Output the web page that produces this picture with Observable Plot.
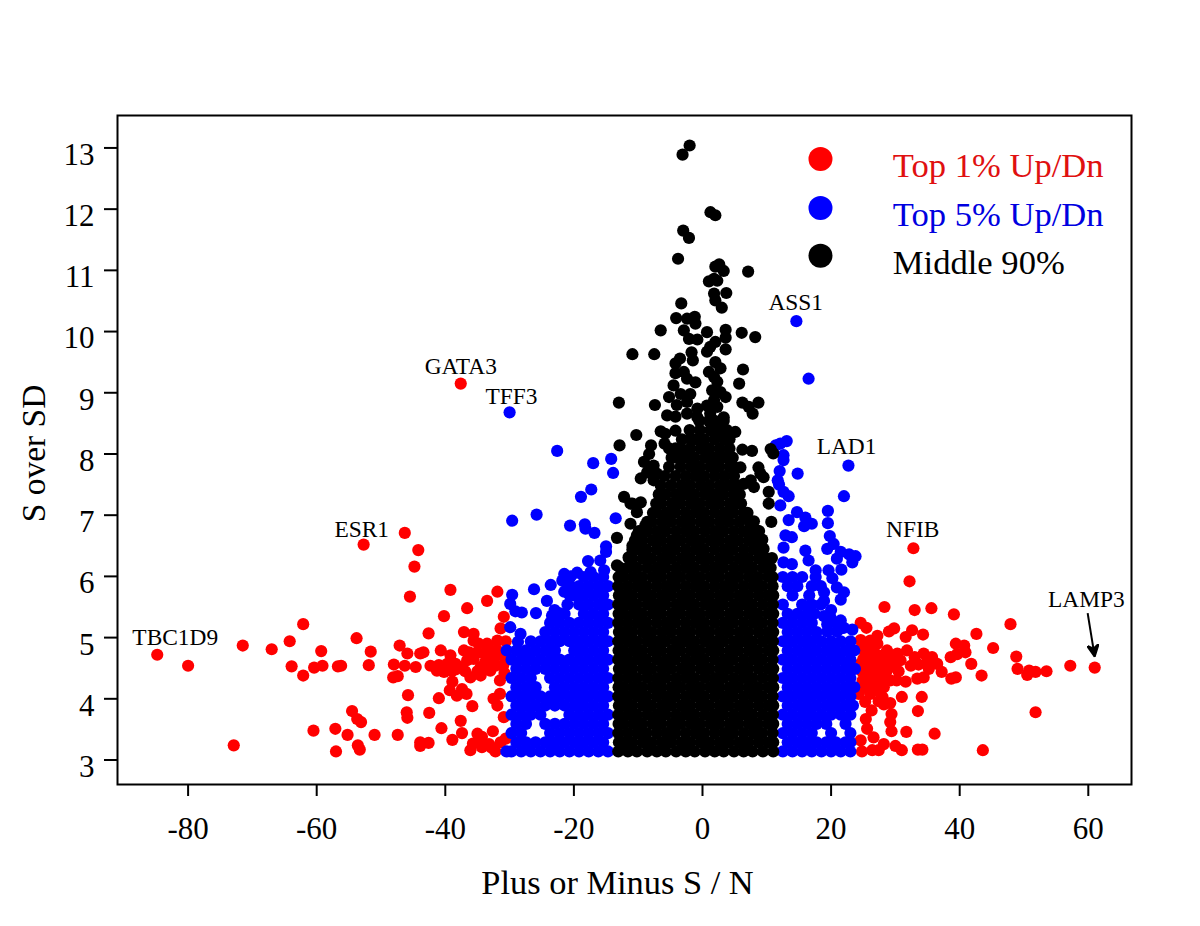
<!DOCTYPE html>
<html>
<head>
<meta charset="utf-8">
<script src="https://cdn.jsdelivr.net/npm/d3@7"></script>
<script src="https://cdn.jsdelivr.net/npm/@observablehq/plot@0.6"></script>
<style>html,body{margin:0;padding:0;background:#fff}</style>
</head>
<body>
<div id="chart"></div>
<script>
const redPairs = [
[-84.8,4.72],[-80,4.54],[-71.5,4.87],[-67,4.81],[-64.2,4.94],[-62.1,5.22],[-63.9,4.53],[-62.1,4.38],[-59.3,4.78],[-60.4,4.51],[-59.1,4.54],[-56.7,4.53],[-56.2,4.54],[-53.8,4.99],[-51.6,4.77],[-51.9,4.55],[-52.7,6.52],[-46.3,6.71],[-44.2,6.43],[-44.8,6.16],[-45.5,5.67],[-39.2,5.78],[-31.9,5.75],[-33.5,5.6],[-36.6,5.48],[-40.2,5.35],[-30.9,5.34],[-31.4,5.15],[-42.6,5.07],[-37.1,5.09],[-35.6,5.06],
[-47.1,4.87],[-45.9,4.74],[-48,4.56],[-48.1,4.35],[-47.4,4.37],[-46.3,4.54],[-44.6,4.52],[-43.9,4.74],[-43.4,4.76],[-42.3,4.54],[-41.3,4.46],[-40.7,4.79],[-40.2,4.44],[-39.2,4.71],[-39.7,4.57],[-38.4,4.57],[-37.1,4.79],[-36.3,4.76],[-37.4,4.52],[-36.1,4.35],[-35.6,4.65],[-34.8,4.9],[-34.5,4.52],[-33.5,4.9],[-33,4.46],[-34,4.74],[-32.5,4.65],[-31.9,4.95],[-30.6,4.94],[-32.2,4.54],[-31.5,4.3],[-35.6,4.95],[-36.6,4.63],[-35,4.45],[-33.8,4.6],[-38.4,4.48],[-41,4.55],[-35.2,4.75],[-36.9,4.45],[-33.2,4.8],[-32,4.8],[-31,4.7],[-31,4.55],[-30.8,4.42],[-34.5,4.38],[-39,4.45],
[-38.9,4.28],[-39.3,4.14],[-41,4.01],[-38.2,4.05],[-37.4,4.16],[-36.7,4.08],[-45.8,4.06],[-35.8,3.88],[-32.5,4],[-31.5,4.08],[-31.9,3.89],[-30.9,3.7],[-46,3.78],[-45.9,3.69],[-42.5,3.77],[-37.6,3.64],[-40.6,3.52],[-54.5,3.8],[-53.7,3.67],[-53.1,3.62],[-60.5,3.48],[-57.1,3.51],[-55.2,3.41],[-51,3.41],[-47.4,3.41],[-72.9,3.24],[-57,3.14],[-53.6,3.24],[-53.3,3.17],[-43.9,3.29],[-42.6,3.28],[-43.9,3.23],[-38.9,3.33],[-37.4,3.44],[-35,3.43],[-34.3,3.38],[-32.6,3.47],[-36.1,3.16],[-35.7,3.27],[-34.3,3.21],[-33.2,3.26],[-32.2,3.14],[-31.4,3.29],[-30.6,3.35],[-34.7,3.29],[-32.8,3.2],
[-37.6,9.15],
[32.8,6.46],[32.2,5.92],[28.3,5.5],[33,5.45],[35.6,5.48],[39.1,5.38],[47.9,5.22],[42.6,5.06],[24.6,5.24],[25.5,5.16],[29.8,5.15],[29,5.1],[32.6,5.12],[31.6,5.01],[34.3,5.05],[27.2,5.03],[24.6,4.96],[39.4,4.9],[40.7,4.87],[38.6,4.68],[39.6,4.73],[40.9,4.76],[45.2,4.83],[48.8,4.69],[41.8,4.57],[43.4,4.38],[38.7,4.33],[39.4,4.35],[49,4.49],[50.8,4.46],[50.5,4.39],[51.8,4.44],[53.5,4.45],[57.2,4.54],[61,4.51],[51.8,3.78],[43.6,3.16],[34.1,4.03],[31,4.03],[33.5,3.8],[29.2,3.93],[28.2,3.91],[29.4,3.75],[29.2,3.62],[29.4,3.47],[31.7,3.46],[36.1,3.43],[33.5,3.17],[34.2,3.17],[30,3.23],[31,3.16],[28.2,3.26],[27.4,3.16],[26.4,3.16],[24.8,3.14],[24.6,3.32],[26.6,3.37],[26.3,3.81],[25.4,3.67],[25.6,3.51],[24.3,4.08],
[31.8,4.79],[34.4,4.74],[35.7,4.68],[36.5,4.57],[37.2,4.44],[35.2,4.49],[33.4,4.33],[31.6,4.28],[34.4,4.35],[32.4,4.54],[30.3,4.74],[28.7,4.79],[29.8,4.52],[28.2,4.57],[27.2,4.9],[26.1,4.95],[25.1,4.79],[25.9,4.68],[24.6,4.57],[26.6,4.52],[25.4,4.41],[27.6,4.41],[29.2,4.3],[26.6,4.3],[28.2,4.19],[27.2,4.14],[24.9,4.3],[30.8,4.63],[24.8,4.85],[26.6,4.8],[28,4.03],[27.4,3.96],[26.1,4.08],[25,4.65],[27.5,4.7],[33.6,4.56],[35,4.62],[25.3,4.18],[26,4.2],[27.6,4.6],[28.2,4.72],[24.8,4.45],[26.2,4.42],[27.9,4.32],[30.5,4.45],[33,4.68],[25.4,4.9],[26,4.6],[27,4.3],[27,4.62],[26,4.75],[25.6,4.3],[25.2,4.55],[28.6,4.45],[29.6,4.65],[30.2,4.3],[25.3,3.95],[26.7,4.15]
];
const bluePairs = [
[14.6,10.17],[16.5,9.23],[22.7,7.81],[22,7.31],[14.8,7.68],[13.1,8.21],[12.1,8.17],[11.4,8.14],[12.6,7.98],[12.6,7.9],[12,7.72],[11.7,7.57],[11.9,7.5],[12.6,7.38],[13.4,7.31],[12.1,7.16],[14.7,7.05],[19.5,7.07],
[-22.6,8.05],[-17,7.85],[-14.2,7.92],[-13.9,7.69],[-17.3,7.42],[-18.9,7.3],[-30,8.68],
[-29.6,6.91],[-25.8,7.01],[-20.6,6.83],[-18.3,6.85],[-18.2,6.78],[-16.8,6.71],[-13.5,6.95],[-15,6.49],[-15,6.4],[-15.9,6.26],[-17.8,6.25],[-15.3,6.1],[-17.4,6.07],[-19.5,6.06],[-21.5,6.04],[-21.8,5.93],[-23.6,5.86],[-26.2,5.79],[-29.6,5.7],[-24.2,5.6],[-29.9,5.55],[-29.1,5.43],[-28.1,5.41],[-25.9,5.4],[-23.4,5.36],[-29.9,5.17],[-28.3,5.06],[-28.7,4.93],[-20.7,5.7],[-21.5,5.75],[-20.5,6],[-22.3,5.4],[-23,5.45],
[19.5,6.87],[19.8,6.66],[20.4,6.53],[19.4,6.45],[21.5,6.4],[20.9,6.29],[22.8,6.36],[23.8,6.33],[23.3,6.23],[21.6,6.11],[19.6,6.1],[20.2,5.97],[20.9,5.82],[22,5.74],[21.5,5.62],[13.4,6.92],[16,6.96],[17,6.86],[15.8,6.82],[12.9,6.67],[13.9,6.64],[12.6,6.47],[16,6.42],[16.5,6.26],[12.6,6.23],[13.9,6.2],[17.6,6.1],[18.9,5.74],[19.9,5.33],[19.4,5.22],[21.5,5.28],[23.3,5.13],[22,5.16],[20.9,5.1],[18.9,5.35],[20,5.45],[20.5,5.25],[21.5,5.15],[19.4,5.1],[18.9,5.6]
];
const blueRows = [
[3.14,-14.7,-16.2,-17.7,-19.2,-20.7,-22.2,-23.7,-25.2,-26.7,-28.2,-29.7,-30.5,12.5,14,15.5,17,18.5,20,21.5,23],
[3.29,-15.45,-16.95,-18.45,-19.95,-21.45,-22.95,-24.45,-25.95,-27.45,-28.95,13.25,14.75,16.25,17.75,19.25,20.75,22.25,23],
[3.44,-14.7,-16.2,-17.7,-19.2,-20.7,-22.2,-23.7,-28.2,-29.7,12.5,14,15.5,17,20,23],
[3.59,-15.45,-16.95,-18.45,-19.95,-21.45,-22.95,-24.45,-27.45,-28.95,13.25,14.75,16.25,17.75,19.25,22.25],
[3.74,-14.7,-16.2,-17.7,-19.2,-20.7,-25.2,-26.7,-28.2,-29.7,12.5,14,15.5,17,18.5,20,21.5,23],
[3.89,-15.45,-16.95,-18.45,-19.95,-21.45,-22.95,-24.45,-25.95,-27.45,-28.95,13.25,14.75,16.25,17.75,19.25,20.75,22.25,23.4],
[4.04,-14.7,-16.2,-17.7,-19.2,-20.7,-22.2,-23.7,-25.2,-26.7,-28.2,-29.7,12.5,14,15.5,17,18.5,20,21.5,23],
[4.19,-15.45,-16.95,-18.45,-19.95,-21.45,-22.95,-25.95,-27.45,-28.95,13.25,14.75,16.25,17.75,19.25,20.75,22.25,23.6],
[4.34,-14.7,-16.2,-17.7,-19.2,-20.7,-22.2,-23.7,-26.7,-28.2,-29.7,12.5,14,15.5,17,18.5,20,21.5,23],
[4.49,-15.45,-16.95,-18.45,-19.95,-21.45,-22.95,-24.45,-25.95,-27.45,-28.95,13.25,14.75,16.25,17.75,19.25,20.75,22.25,23.7],
[4.64,-14.7,-16.2,-17.7,-19.2,-20.7,-22.2,-23.7,-25.2,-26.7,-28.2,-29.7,12.5,14,15.5,17,18.5,20,21.5,23],
[4.79,-15.45,-16.95,-18.45,-19.95,-22.95,-24.45,-25.95,-27.45,-28.95,-30.45,13.25,14.75,16.25,17.75,19.25,20.75,22.25,23.6],
[4.94,-14.7,-16.2,-17.7,-19.2,-20.7,-22.2,-23.7,-25.2,-26.7,12.5,14,15.5,17,18.5,20,21.5,23],
[5.09,-15.45,-16.95,-18.45,-19.95,-21.45,-22.95,-24.45,13.25,14.75,16.25,17.75],
[5.24,-14.7,-16.2,-17.7,-19.2,-20.7,-22.2,-23.7,12.5,14,15.5,17],
[5.39,-15.45,-16.95,-18.45,-21.45,13.25,14.75,16.25,17.4],
[5.54,-14.7,-16.2,-17.7,-19.2,-21,12.5,15.5,17,18.4],
[5.69,-15.45,-16.95,-18.45,-19.95,14,16.6],
[5.84,-14.7,-16.2,-17.7,-19.2,-20.5,13.25,14.75,17,18.4],
[5.99,-15.45,-16.95,-18.45,12.5,14,15.5,17.6]
];
const blackPairs = [
[-2,13.04],[-3.1,12.89],[1.24,11.95],[2,11.9],[-3,11.65],[-2.1,11.53],[-3.8,11.19],[2.6,11.1],[2,11.06],[3.3,10.99],[7.1,10.98],[1.8,10.86],[1,10.82],[2.3,10.83],[3.7,10.63],[1.8,10.62],[2,10.51],[3,10.39],[-3.3,10.46],[-4.1,10.22],[-2.4,10.21],[-1.2,10.24],[-1.1,10.13],[-6.5,10.02],[-2.9,10.02],[-2.1,9.88],[-0.8,9.87],[0.7,9.99],[3.6,10.03],[3.6,9.9],[6.1,9.98],[8.2,9.91],[2,9.83],[1.2,9.75],[0.7,9.67],[3.6,9.71],[-10.9,9.63],[-7.5,9.63],[-1.7,9.66],[-1.5,9.53],[-3.5,9.56],[-4.2,9.48],[2,9.5],[2.8,9.4],[1,9.34],[1.8,9.26],[6.3,9.38],[5.7,9.15],[-4.2,9.32],[-2.9,9.34],[-2.4,9.23],[-1.1,9.17],[-4.5,9.12],[2.3,9.18],[1.5,9.04],[2.8,9.01],[3.6,8.93],[-5.2,8.93],[-3.4,8.98],[-1.9,8.98],[-13,8.84],[-7.4,8.8],[6.2,8.84],[8.7,8.84],[7.2,8.77],[7.8,8.66],[-4,8.8],[-2.4,8.85],[-0.8,8.74],[0.7,8.79],[2.3,8.77],[1.8,8.88],[-5.5,8.63],[-4.2,8.61],[-2.4,8.66],[1.2,8.66],[3.3,8.6],[-0.8,8.6],
[-4.2,8.38],[-6.5,8.37],[-5.8,8.33],[-10.3,8.31],[-12.9,8.14],[-5.9,8.17],[-5.2,8.09],[-8,8.14],[-8.3,8],[-9.1,7.87],[-7.6,7.81],[-7.1,7.68],[-8.6,7.7],[-9.6,7.6],[-7.6,7.57],[5.1,8.36],[6.2,8.07],[7.7,8.05],[10.6,8.08],[11,8.01],[5.9,7.78],[8.7,7.78],[9,7.68],[9.5,7.62],[7.5,7.57],[6.4,7.51],[8,7.46],[10.3,7.38],[10.3,7.19],[-12.2,7.3],[-11.2,7.19],[-9.6,7.21],[-10.9,7.19],[-10.2,7.05],[-11.2,6.86],[-13.3,6.63],[-8.9,6.83],[-10.2,6.67],[-10.9,6.5],[-11.5,6.31],[-13.3,6.18],[10.7,6.89],[8.5,6.75],[9.5,6.45],[10.8,6.3],[6.9,6.97],[9.3,6.6],[8,6.9]
];
const blackRows = [
[3.14,-13.1,-11.6,-10.2,-8.6,-7.1,-5.7,-4.1,-2.6,-1.2,0.4,1.9,3.3,4.9,6.4,7.8,9.4,11],
[3.29,-13,-12.3,-10.9,-9.3,-7.9,-6.3,-4.9,-3.3,-1.9,-0.3,1.1,2.7,4.1,5.7,7.1,8.7,10.2,11],
[3.44,-13.1,-11.6,-10.1,-8.7,-7.1,-5.6,-4.2,-2.6,-1.1,0.3,1.9,3.4,4.8,6.4,7.9,9.3,10.9],
[3.59,-13.05,-12.3,-10.8,-9.4,-7.8,-6.4,-4.8,-3.4,-1.8,-0.4,1.2,2.6,4.2,5.6,7.2,8.6,10.2,11],
[3.74,-13.1,-11.6,-10.2,-8.6,-7.1,-5.7,-4.1,-2.6,-1.2,0.4,1.9,3.3,4.9,6.4,7.8,9.4,10.95],
[3.89,-13,-12.3,-10.9,-9.3,-7.9,-6.3,-4.9,-3.3,-1.9,-0.3,1.1,2.7,4.1,5.7,7.1,8.7,10.2,11],
[4.04,-13.1,-11.6,-10.1,-8.7,-7.1,-5.6,-4.2,-2.6,-1.1,0.3,1.9,3.4,4.8,6.4,7.9,9.3,10.9],
[4.19,-13.05,-12.3,-10.8,-9.4,-7.8,-6.4,-4.8,-3.4,-1.8,-0.4,1.2,2.6,4.2,5.6,7.2,8.6,10.2,11],
[4.34,-13.1,-11.6,-10.2,-8.6,-7.1,-5.7,-4.1,-2.6,-1.2,0.4,1.9,3.3,4.9,6.4,7.8,9.4,10.95],
[4.49,-13,-12.3,-10.9,-9.3,-7.9,-6.3,-4.9,-3.3,-1.9,-0.3,1.1,2.7,4.1,5.7,7.1,8.7,10.2,11],
[4.64,-13.1,-11.6,-10.1,-8.7,-7.1,-5.6,-4.2,-2.6,-1.1,0.3,1.9,3.4,4.8,6.4,7.9,9.3,10.9],
[4.79,-13.05,-12.3,-10.8,-9.4,-7.8,-6.4,-4.8,-3.4,-1.8,-0.4,1.2,2.6,4.2,5.6,7.2,8.6,10.2,11],
[4.94,-13.1,-11.6,-10.2,-8.6,-7.1,-5.7,-4.1,-2.6,-1.2,0.4,1.9,3.3,4.9,6.4,7.8,9.4,10.95],
[5.09,-13,-12.3,-10.9,-9.3,-7.9,-6.3,-4.9,-3.3,-1.9,-0.3,1.1,2.7,4.1,5.7,7.1,8.7,10.2,11],
[5.24,-13.1,-11.6,-10.1,-8.7,-7.1,-5.6,-4.2,-2.6,-1.1,0.3,1.9,3.4,4.8,6.4,7.9,9.3,10.9],
[5.39,-13.05,-12.3,-10.8,-9.4,-7.8,-6.4,-4.8,-3.4,-1.8,-0.4,1.2,2.6,4.2,5.6,7.2,8.6,10.2,11],
[5.54,-13.1,-11.6,-10.2,-8.6,-7.1,-5.7,-4.1,-2.6,-1.2,0.4,1.9,3.3,4.9,6.4,7.8,9.4,10.95],
[5.69,-13,-12.3,-10.9,-9.3,-7.9,-6.3,-4.9,-3.3,-1.9,-0.3,1.1,2.7,4.1,5.7,7.1,8.7,10.2,11],
[5.84,-13.1,-11.6,-10.1,-8.7,-7.1,-5.6,-4.2,-2.6,-1.1,0.3,1.9,3.4,4.8,6.4,7.9,9.3,10.9],
[5.99,-13.05,-12.3,-10.8,-9.4,-7.8,-6.4,-4.8,-3.4,-1.8,-0.4,1.2,2.6,4.2,5.6,7.2,8.6,10.2,10.9],
[6.14,-12.8,-11.6,-10.2,-8.6,-7.1,-5.7,-4.1,-2.6,-1.2,0.4,1.9,3.3,4.9,6.4,7.8,9.4,10.6],
[6.29,-11.4,-10.9,-9.3,-7.9,-6.3,-4.9,-3.3,-1.9,-0.3,1.1,2.7,4.1,5.7,7.1,8.7,10],
[6.44,-10.9,-10.1,-8.7,-7.1,-5.6,-4.2,-2.6,-1.1,0.3,1.9,3.4,4.8,6.4,7.9,9.4],
[6.59,-10.5,-9.4,-7.8,-6.4,-4.8,-3.4,-1.8,-0.4,1.2,2.6,4.2,5.6,7.2,8.6,9.1],
[6.74,-9.9,-8.6,-7.1,-5.7,-4.1,-2.6,-1.2,0.4,1.9,3.3,4.9,6.4,7.8,8.8],
[6.89,-8.6,-7.9,-6.3,-4.9,-3.3,-1.9,-0.3,1.1,2.7,4.1,5.7,7.3],
[7.04,-7.7,-7.1,-5.6,-4.2,-2.6,-1.1,0.3,1.9,3.4,4.8,6.4,7],
[7.19,-7.2,-6.4,-4.8,-3.4,-1.8,-0.4,1.2,2.6,4.2,5.6,6],
[7.34,-6.8,-5.7,-4.1,-2.6,-1.2,0.4,1.9,3.3,4.9,5.8],
[7.49,-6.5,-4.9,-3.3,-1.9,-0.3,1.1,2.7,4.1,5.4],
[7.64,-5.9,-4.2,-2.6,-1.1,0.3,1.9,3.4,4.9],
[7.79,-5.2,-3.4,-1.8,-0.4,1.2,2.6,4.2,4.9],
[7.94,-4.8,-4.1,-2.6,-1.2,0.4,1.9,3.3,4.7],
[8.09,-4.2,-3.3,-1.9,-0.3,1.1,2.7,4.2],
[8.24,-3.2,-1.9,-1.1,0.3,1.9,3.4,4.2],
[8.39,-2,-0.4,1.2,2.6,3.8],
[8.54,-0.5,1,1.9,3.3]
];
const legendLabels = ["Top 1% Up/Dn","Top 5% Up/Dn","Middle 90%"];
const legendColors = ["#ff0000","#0000ff","#000000"];
const legendDotX = [18.35,18.35,18.35];
const legendDotY = [12.82,12.02,11.24];
const legendTextX = [29.6,29.6,29.6];
const legendTextY = [12.70,11.91,11.12];
const legendTextColors = ["#e01010","#0000e0","#000000"];
const geneNames = ["ASS1","GATA3","TFF3","LAD1","ESR1","NFIB","TBC1D9","LAMP3"];
const geneX = [14.5,-37.6,-29.7,22.4,-53,32.7,-82,59.7];
const geneY = [10.48,9.43,8.94,8.12,6.77,6.77,5,5.62];
const arrowFrom = [59.9,5.4];
const arrowTo = [61,4.69];
const xTicks = [-80,-60,-40,-20,0,20,40,60];
const yTicks = [3,4,5,6,7,8,9,10,11,12,13];
const xTitle = "Plus or Minus S / N";
const yTitle = "S over SD";

const unrow = rows => rows.flatMap(([y,...xs]) => xs.map(x => [x,y]));
const blueAll = bluePairs.concat(unrow(blueRows));
const blackAll = blackPairs.concat(unrow(blackRows));
const font = "Liberation Serif";
const head = () => {
  const m = d3.create("svg:marker")
    .attr("viewBox","-12 -6 14 12").attr("markerWidth",14).attr("markerHeight",12)
    .attr("markerUnits","userSpaceOnUse").attr("orient","auto").attr("refX",0).attr("refY",0);
  m.append("path").attr("d","M-12,-6L0,0L-12,6L-8,0Z").attr("fill","#000");
  return m.node();
};
const dots = (data, fill) => Plot.dot(data, {x:d=>d[0], y:d=>d[1], r:6.1, fill, stroke:"none"});

const plot = Plot.plot({
  width:1200, height:926,
  marginLeft:117, marginRight:69, marginTop:115, marginBottom:142,
  x:{domain:[-90.98,66.72]},
  y:{domain:[2.6,13.53]},
  style:{fontFamily:font, background:"#fff", color:"#000"},
  marks:[
    dots(redPairs,"#ff0000"),
    dots(blueAll,"#0000ff"),
    dots(blackAll,"#000000"),
    Plot.dot(legendLabels,{x:(d,i)=>legendDotX[i], y:(d,i)=>legendDotY[i], r:12, fill:(d,i)=>legendColors[i], stroke:"none"}),
    Plot.text(legendLabels,{x:(d,i)=>legendTextX[i], y:(d,i)=>legendTextY[i], text:d=>d, fill:(d,i)=>legendTextColors[i], textAnchor:"start", fontSize:34.6}),
    Plot.text(geneNames,{x:(d,i)=>geneX[i], y:(d,i)=>geneY[i], text:d=>d, fill:"#000", fontSize:23.4}),
    Plot.link([0],{x1:arrowFrom[0], y1:arrowFrom[1], x2:arrowTo[0], y2:arrowTo[1], stroke:"#000", strokeWidth:2, markerEnd:head}),
    Plot.frame({stroke:"#000", strokeWidth:2}),
    Plot.axisX({ticks:xTicks, tickFormat:d=>String(d), tickSize:12, tickPadding:20, strokeWidth:2, fontSize:31, label:null}),
    Plot.axisY({ticks:yTicks, tickSize:13, strokeWidth:2, fill:"none", label:null}),
    Plot.axisY({ticks:yTicks, tickFormat:d=>String(d), tickSize:0, tickPadding:23, fontSize:31, label:null, dy:7}),
    Plot.text([xTitle],{frameAnchor:"bottom", lineAnchor:"middle", dy:98, dx:-7, text:d=>d, fill:"#000", fontSize:34.4}),
    Plot.text([yTitle],{frameAnchor:"left", textAnchor:"middle", dx:-83, dy:3.5, rotate:-90, text:d=>d, fill:"#000", fontSize:33.5})
  ]
});
document.getElementById("chart").appendChild(plot);
</script>
</body>
</html>
